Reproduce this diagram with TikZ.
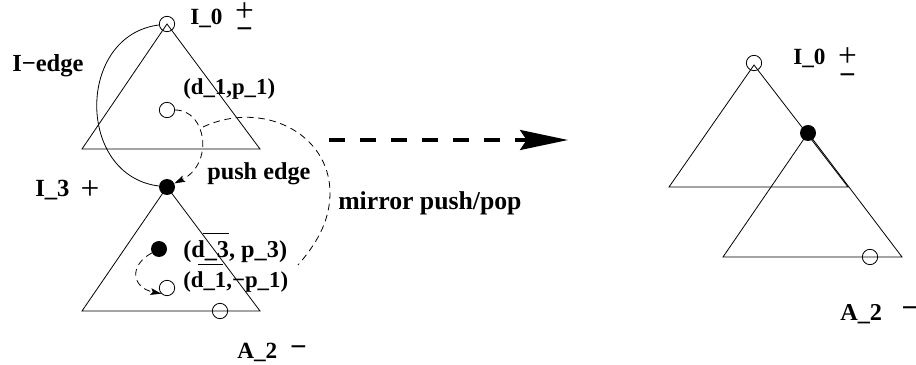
\documentclass[tikz,border=0pt]{standalone}
\usepackage{fontspec}
\setmainfont{Liberation Serif}
\usetikzlibrary{arrows.meta}
\begin{document}
\begin{tikzpicture}[x=0.75pt,y=0.75pt,
  lbl/.style={font=\fontsize{#1}{20}\selectfont\bfseries, inner sep=0pt, anchor=base west},
  lbl/.default=17.4,
  plussgn/.style={font=\fontsize{25}{26}\selectfont, inner sep=0pt, anchor=center},
  minussgn/.style={font=\fontsize{22}{24}\selectfont\bfseries, inner sep=0pt, anchor=center},
  tri/.style={line width=0.6pt, line join=miter},
  ocirc/.style={circle, draw, line width=0.6pt, inner sep=0pt, minimum size=11.5pt},
  fdot/.style={circle, fill=black, inner sep=0pt, minimum size=12pt},
  thinl/.style={line width=0.6pt},
  dsh/.style={line width=0.6pt, dash pattern=on 5pt off 3.5pt},
  smalltip/.style={-{Stealth[length=8pt,width=5pt,inset=1.5pt]}},
  bigarrow/.style={line width=2.4pt, dash pattern=on 12pt off 11.25pt,
     -{Stealth[length=36pt,width=15pt,inset=5pt]}}
]
\useasboundingbox (0,0) rectangle (916,364);

% ---------- left picture ----------
\coordinate (t1a) at (167,340);
\coordinate (t1l) at (82,215);
\coordinate (t1r) at (260,215);
\draw[tri] (t1a) -- (t1l) -- (t1r) -- cycle;
\coordinate (t2a) at (167,177);
\coordinate (t2l) at (82,53);
\coordinate (t2r) at (260,53);
\draw[tri] (t2a) -- (t2l) -- (t2r) -- cycle;

\node[ocirc] (n0) at (167,340) {};
\node[ocirc] (n1) at (167,254) {};
\node[fdot]  (n3) at (167,177) {};
\node[fdot]  (n4) at (159,115) {};
\node[ocirc] (n5) at (167,76) {};
\node[ocirc] (n6) at (220,53) {};

% I-edge
\draw[thinl] (n0) to[out=187,in=173,looseness=1.33] (n3);
% push edge
\draw[dsh,smalltip] (n1) .. controls (207,254) and (214,200) .. (n3);
% mirror push/pop
\coordinate (m0) at (203,237);
\coordinate (m1) at (330,171);
\coordinate (m2) at (298,99);
\draw[dsh] (m0) .. controls (262,264.5) and (330,231) .. (m1)
               .. controls (330,141) and (314.4,117.9) .. (m2);
% inner arrow
\draw[dsh,smalltip] (n4) .. controls (128,98) and (132.5,76.2) .. (n5.225);

% labels left
\node[lbl] (l0) at (190,339) {I\_0};
\node[plussgn] (l0p) at (244.5,351.5) {+};
\node[minussgn] (l0m) at (244.5,330.5) {−};
\node[lbl=18.4] (le) at (12,292) {I−edge};
\node[lbl=17.1] (ld1) at (183,269) {(d\_1,p\_1)};
\node[lbl=18.2] (lpe) at (207,184) {push edge};
\node[lbl=19.3] (lmi) at (338,154) {mirror push/pop};
\node[lbl=18.5] (l3) at (35,167) {I\_3};
\node[plussgn] (l3p) at (90,174) {+};
\node[lbl=18.2] (ld3) at (183,107) {(d\_3, p\_3)};
\node[lbl=17.1] (ld1m) at (183,77) {(d\_1,−p\_1)};
\coordinate (ov1a) at (203,131); \coordinate (ov1b) at (229,131);
\coordinate (ov2a) at (198,100); \coordinate (ov2b) at (223,100);
\draw[thinl] (ov1a) -- (ov1b);
\draw[thinl] (ov2a) -- (ov2b);
\node[lbl] (la2) at (237,6) {A\_2};
\node[minussgn] (la2m) at (298.5,13) {−};

% big arrow
\coordinate (ba0) at (329,224);
\coordinate (ba1) at (568,224);
\draw[bigarrow] (ba0) -- (ba1);

% ---------- right picture ----------
\draw[tri] (754,299) -- (669,177) -- (848,177) -- cycle;
\draw[tri] (808,231) -- (723,107) -- (902,107) -- cycle;
\node[ocirc] (r0) at (754,301) {};
\node[fdot]  (r3) at (808,231) {};
\node[ocirc] (r6) at (870,107) {};
\node[lbl] (rl0) at (793,299) {I\_0};
\node[plussgn] (rl0p) at (847.5,306.5) {+};
\node[minussgn] (rl0m) at (847.5,284.7) {−};
\node[lbl=18.2] (ra2) at (840,44) {A\_2};
\node[minussgn] (ra2m) at (910,52) {−};
\end{tikzpicture}
\end{document}
